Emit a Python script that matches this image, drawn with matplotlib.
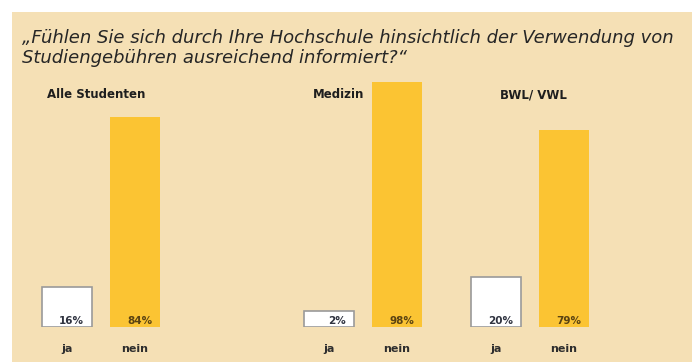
import matplotlib.pyplot as plt
from matplotlib.patches import Rectangle

plt.rcParams['font.family'] = ['DejaVu Sans']

# Daten
gruppen = ["Alle Studenten", "Medizin", "BWL/ VWL"]
antworten = ["ja", "nein"]
ja_werte = [16, 2, 20]
nein_werte = [84, 98, 79]
titel_zeilen = ["\u201eFühlen Sie sich durch Ihre Hochschule hinsichtlich der Verwendung von",
                "Studiengebühren ausreichend informiert?\u201c"]

BEIGE = "#f5e0b5"
GELB = "#fbc433"
W, H = 692, 362

fig = plt.figure(figsize=(W / 100, H / 100), dpi=100)
fig.patch.set_facecolor("white")
fig.patches.append(Rectangle((12 / W, 0), 1, (H - 12) / H, transform=fig.transFigure,
                             facecolor=BEIGE, edgecolor="none", zorder=-10))

for zeile, y_px in zip(titel_zeilen, [43, 63]):
    fig.text(22 / W, 1 - y_px / H, zeile, ha="left", va="baseline", fontsize=13,
             style="italic", color="#262626")

# Achsen je Gruppe: linke Kante in Pixeln
links_px = [33, 295, 462]
unten = (H - 327) / H
hoehe = 250 / H
breite = 136 / W

for i, gruppe in enumerate(gruppen):
    ax = fig.add_axes([links_px[i] / W, unten, breite, hoehe])
    ax.set_facecolor("none")
    werte = [ja_werte[i], nein_werte[i]]
    anzeige = [max(werte[0], 6.5), werte[1]]
    ax.bar([0], [anzeige[0]], width=0.74, color="white", edgecolor="#9a9a9a", linewidth=1.2)
    ax.bar([1], [anzeige[1]], width=0.74, color=GELB, edgecolor="none")
    for x, v in enumerate(werte):
        farbe = "#2f3340" if x == 0 else "#5a4312"
        ax.text(x + 0.25, 1.2, f"{v}%", ha="right", va="baseline", fontsize=7.5,
                fontweight="bold", color=farbe)
    ax.set_xlim(-0.5, 1.5)
    ax.set_ylim(0, 100)
    ax.set_xticks([0, 1])
    ax.set_xticklabels(antworten, fontsize=8, fontweight="bold", color="#2e2e2e")
    ax.tick_params(axis="x", length=0, pad=12)
    ax.set_yticks([])
    for s in ax.spines.values():
        s.set_visible(False)

titel_x = [47, 313, 500]
for i, gruppe in enumerate(gruppen):
    fig.text(titel_x[i] / W, 1 - 98 / H, gruppe, ha="left", va="baseline",
             fontsize=8.5, fontweight="bold", color="#1e1e1e")

fig.savefig("out.png", dpi=100, facecolor=fig.get_facecolor())
